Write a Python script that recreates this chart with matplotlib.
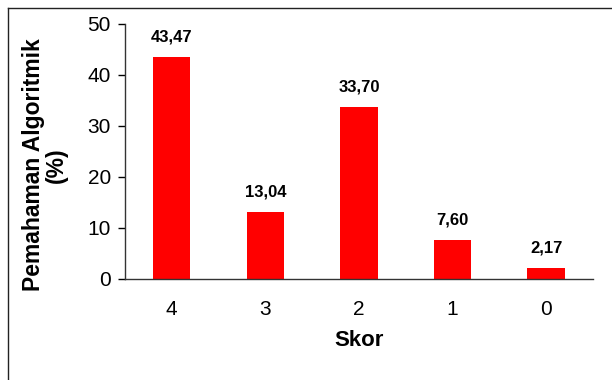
import matplotlib.pyplot as plt
from matplotlib.lines import Line2D

# DATA
skor = ["4", "3", "2", "1", "0"]
persen = [43.47, 13.04, 33.70, 7.60, 2.17]
label_persen = ["43,47", "13,04", "33,70", "7,60", "2,17"]

plt.rcParams['font.family'] = ['Liberation Sans', 'DejaVu Sans']

fig = plt.figure(figsize=(6.12, 3.8), dpi=100)
ax = fig.add_axes([0.204, 0.266, 0.765, 0.671])

x = range(len(skor))
bars = ax.bar(x, persen, width=0.4, color="#ff0000")

for b, txt in zip(bars, label_persen):
    ax.annotate(txt, (b.get_x() + b.get_width() / 2, b.get_height()),
                xytext=(0, 9), textcoords="offset points",
                ha="center", va="bottom", fontsize=12, fontweight="bold")

ax.set_xlim(-0.5, 4.5)
ax.set_ylim(0, 50)
ax.set_yticks([0, 10, 20, 30, 40, 50])
ax.set_xticks(list(x))
ax.set_xticklabels(skor)
ax.tick_params(axis="y", direction="out", length=5, width=1, labelsize=15, pad=5)
ax.tick_params(axis="x", length=0, labelsize=15, pad=15)

ax.spines["top"].set_visible(False)
ax.spines["right"].set_visible(False)
for s in ["left", "bottom"]:
    ax.spines[s].set_color("#333333")
    ax.spines[s].set_linewidth(1)

ax.set_xlabel("Skor", fontsize=16, fontweight="bold", labelpad=8)
ax.set_ylabel("Pemahaman Algoritmik\n(%)", fontsize=16.5, fontweight="bold",
              linespacing=1.0)
ax.yaxis.set_label_coords(-0.122, 0.447)

# frame around the chart area
W, H = 612, 380
fig.add_artist(Line2D([8 / W, 8 / W], [0, 1 - 8 / H], color="#222222", lw=1))
fig.add_artist(Line2D([8 / W, 1], [1 - 8 / H, 1 - 8 / H], color="#222222", lw=1))

plt.savefig("out.png", dpi=100)
